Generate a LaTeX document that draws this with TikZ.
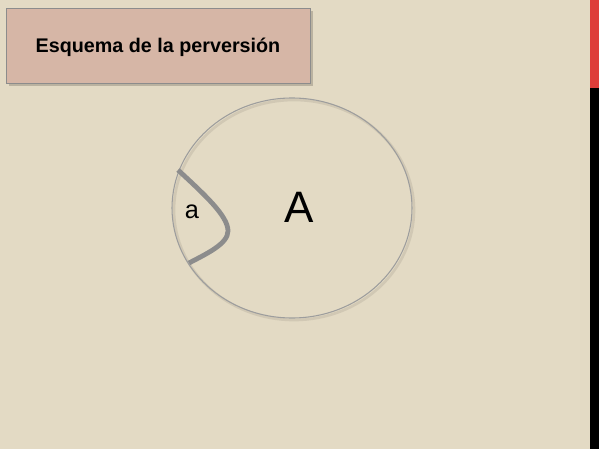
\documentclass[tikz,border=0pt]{standalone}
\usepackage{fontspec}
\setmainfont{Liberation Sans}
\usepackage{xcolor}
\usetikzlibrary{math}

\definecolor{paper}{RGB}{227,218,196}
\definecolor{titlefill}{RGB}{214,182,166}
\definecolor{linegray}{RGB}{140,140,140}
\definecolor{barred}{RGB}{222,62,58}

\begin{document}
\begin{tikzpicture}[x=0.75pt,y=-0.75pt]
\tikzmath{
	\w = 599;\h = 449;
	\cx = 292;\cy = 208;\rx = 120;\ry = 110;
	{\fill[paper] (0,0) rectangle (\w,\h);};
	{\useasboundingbox (0,0) rectangle (\w,\h);};
	%
	{\fill[barred] (590,0) rectangle (\w,88);};
	{\fill[black] (590,88) rectangle (\w,\h);};
	%
	{\fill[black,opacity=0.18] (9,11) rectangle (313,86);};
	{\node[draw=linegray,fill=titlefill,minimum width=304*0.75pt,minimum height=75*0.75pt,inner sep=0pt] (title) at (158,45.5) {};};
	{\node (tt) at (158,47) {\fontsize{14.8}{17}\selectfont\bfseries Esquema de la perversión};};
	%
	{\node (o) at (\cx,\cy) {};};
	{\coordinate (p) at (178,170);};
	{\coordinate (q) at (228,231);};
	{\coordinate (r) at (189,263);};
	{\draw[black,opacity=0.08,line width=2pt] (\cx+2,\cy+2) ellipse ({\rx} and {\ry});};
	{\draw[linegray!85!white,line width=0.8pt] (o.center) ellipse ({\rx} and {\ry});};
	{\draw[draw=linegray,line width=3.6pt] (p) .. controls (205,195) and (228,216) .. (q) .. controls (228,244) and (206,254) .. (r);};
	%
	{\node (a) at (192,212) {\fontsize{19}{22}\selectfont a};};
	{\node (A) at (299,207) {\fontsize{33}{38}\selectfont A};};
};
\end{tikzpicture}
\end{document}
